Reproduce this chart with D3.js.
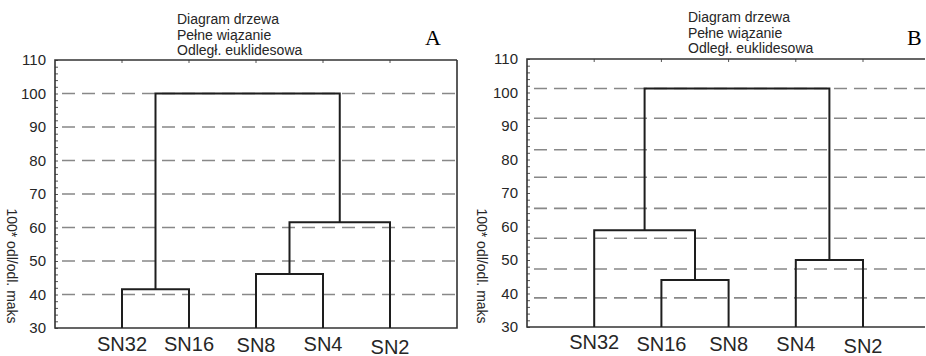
<!DOCTYPE html>
<html>
<head>
<meta charset="utf-8">
<script src="https://cdn.jsdelivr.net/npm/d3@7"></script>
<style>
  body { margin: 0; background: #fff; }
  svg { display: block; }
  text { font-family: "Liberation Sans", Arial, sans-serif; fill: #262626; }
</style>
</head>
<body>
<svg id="chart" width="926" height="356"></svg>
<script>

// ---- data ----
const titleLines = ["Diagram drzewa", "Pełne wiązanie", "Odległ. euklidesowa"]
const yLabel = "100* odl/odl. maks"
const yTicks = [30, 40, 50, 60, 70, 80, 90, 100, 110]

const leavesA = ["SN32", "SN16", "SN8", "SN4", "SN2"]
const mergesA = [
  { id: "a1", a: "SN32", b: "SN16", h: 41.6 },
  { id: "a2", a: "SN8",  b: "SN4",  h: 46.1 },
  { id: "a3", a: "a2",   b: "SN2",  h: 61.6 },
  { id: "a4", a: "a1",   b: "a3",   h: 100.0 }
]
const gridA = [40, 50, 60, 70, 80, 90, 100]

const leavesB = ["SN32", "SN16", "SN8", "SN4", "SN2"]
const mergesB = [
  { id: "b1", a: "SN16", b: "SN8", h: 44.0 },
  { id: "b2", a: "SN4",  b: "SN2", h: 50.0 },
  { id: "b3", a: "SN32", b: "b1",  h: 58.9 },
  { id: "b4", a: "b3",   b: "b2",  h: 101.2 }
]
// scanned panel B: dashed lines do not sit on the ticks
const gridB = [38.7, 47.3, 56.5, 65.4, 74.7, 82.9, 92.3, 101.2]


const svg = d3.select("#chart")

function drawPanel( cfg, leaves, merges, grid )
{
  const g = svg.append("g")

  const x = d3.scaleLinear()
              .domain([0, leaves.length + 1])
              .range([cfg.left, cfg.left + (leaves.length + 1) * cfg.step])

  const y = d3.scaleLinear()
              .domain([30, 110])
              .range([cfg.bottom, cfg.top])

  const frameRight = Math.min( cfg.frameRight, x.range()[1] )

  // dashed grid
  g.selectAll(".grid")
   .data( grid )
   .enter()
   .append("line")
   .attr("x1", cfg.left)
   .attr("x2", frameRight)
   .attr("y1", d => y(d))
   .attr("y2", d => y(d))
   .attr("stroke", "#888")
   .attr("stroke-width", 1.6)
   .attr("stroke-dasharray", "13,7")
   .attr("stroke-dashoffset", 13)

  // left axis, ticks inside
  const axisL = g.append("g")
                 .attr("transform", "translate(" + cfg.left + ",0)")
                 .call( d3.axisRight(y)
                          .tickValues( d3.range(30, 111, 2) )
                          .tickSize(3)
                          .tickFormat("") )
  axisL.select(".domain").remove()
  axisL.selectAll("line").attr("stroke", "#555")

  g.selectAll(".ytick")
   .data( yTicks )
   .enter()
   .append("text")
   .attr("x", cfg.left - 9)
   .attr("y", d => y(d))
   .attr("dy", "0.36em")
   .attr("text-anchor", "end")
   .attr("font-size", 15)
   .text(d => d)

  // top ticks at leaf positions
  g.selectAll(".ttick")
   .data( leaves )
   .enter()
   .append("line")
   .attr("x1", (d, i) => x(i + 1))
   .attr("x2", (d, i) => x(i + 1))
   .attr("y1", cfg.top)
   .attr("y2", cfg.top + 3)
   .attr("stroke", "#555")

  // frame
  g.append("path")
   .attr("d", "M" + frameRight + "," + cfg.top + "H" + cfg.left + "V" + cfg.bottom + "H" + frameRight +
              (cfg.closeRight ? "V" + cfg.top : ""))
   .attr("fill", "none")
   .attr("stroke", "#333")
   .attr("stroke-width", 1.6)

  // dendrogram links
  let pos = {}
  leaves.forEach( (d, i) => { pos[d] = { x: x(i + 1), h: 30 } } )

  merges.forEach( m => {
    let a = pos[m.a], b = pos[m.b]
    g.append("path")
     .attr("d", "M" + a.x + "," + y(a.h) + "V" + y(m.h) + "H" + b.x + "V" + y(b.h))
     .attr("fill", "none")
     .attr("stroke", "#1e1e1e")
     .attr("stroke-width", 2)
    pos[m.id] = { x: (a.x + b.x) / 2, h: m.h }
  })

  // leaf labels
  g.selectAll(".leaf")
   .data( leaves )
   .enter()
   .append("text")
   .attr("x", (d, i) => x(i + 1))
   .attr("y", (d, i) => cfg.leafY + cfg.leafNudge[i])
   .attr("text-anchor", "middle")
   .attr("font-size", 20)
   .text(d => d)

  // y label
  g.append("text")
   .attr("transform", "translate(" + cfg.yLabelX + "," + cfg.yLabelY + ") rotate(90)")
   .attr("text-anchor", "middle")
   .attr("dy", "0.35em")
   .attr("font-size", 14)
   .text( yLabel )

  // title
  g.selectAll(".title")
   .data( titleLines )
   .enter()
   .append("text")
   .attr("x", cfg.titleX)
   .attr("y", (d, i) => cfg.titleY + i * 15.5)
   .attr("font-size", 14)
   .text(d => d)

  // panel letter
  g.append("text")
   .attr("x", cfg.letterX)
   .attr("y", 45)
   .attr("font-size", 22)
   .style("font-family", "'Liberation Serif', 'Times New Roman', serif")
   .style("fill", "#000")
   .text( cfg.letter )
}

drawPanel({ left: 55, step: 67, frameRight: 458, closeRight: true, top: 60, bottom: 328,
            leafY: 351, leafNudge: [0, 0, 1, 0, 2.5],
            yLabelX: 12, yLabelY: 266, titleX: 177, titleY: 24,
            letterX: 425, letter: "A" },
          leavesA, mergesA, gridA)

drawPanel({ left: 527, step: 67.2, frameRight: 925, closeRight: false, top: 59, bottom: 327,
            leafY: 350, leafNudge: [-1.5, 0.5, 1, 0.5, 3],
            yLabelX: 482, yLabelY: 266, titleX: 688, titleY: 22,
            letterX: 907, letter: "B" },
          leavesB, mergesB, gridB)

</script>
</body>
</html>
